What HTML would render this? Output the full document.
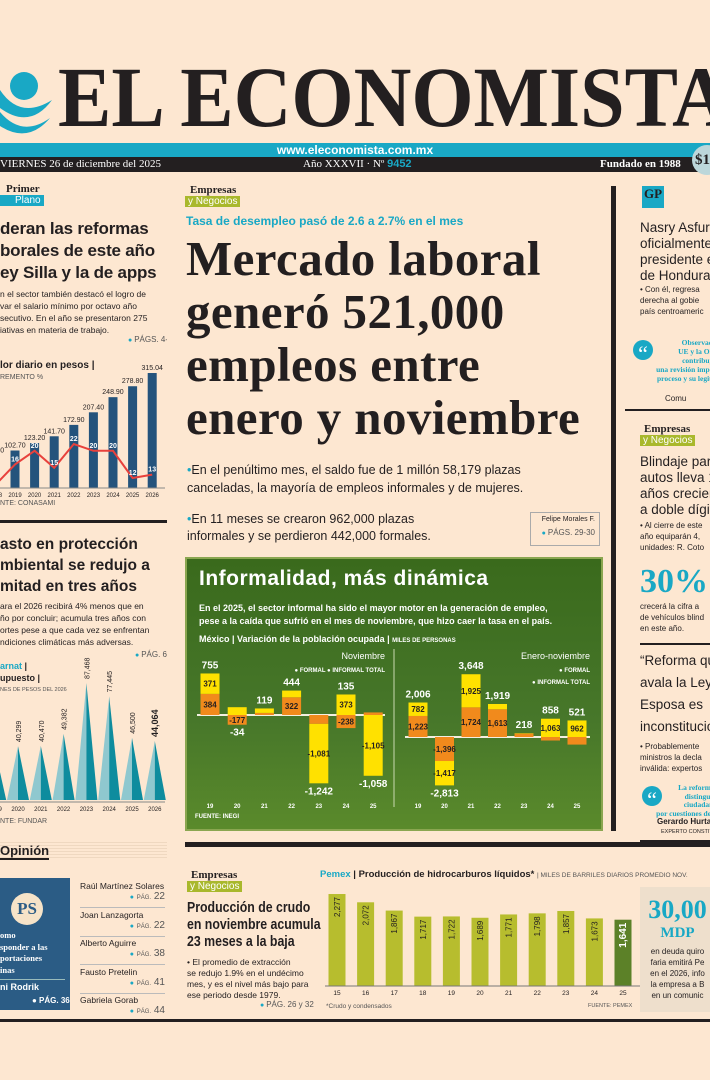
<!DOCTYPE html>
<html><head><meta charset="utf-8">
<style>
*{margin:0;padding:0;box-sizing:border-box}
body{width:710px;height:1080px;background:#fde7d1;font-family:"Liberation Sans",sans-serif;color:#231f20;position:relative;overflow:hidden}
.a{position:absolute}
.serif{font-family:"Liberation Serif",serif}
.tag1{font-family:"Liberation Serif",serif;font-weight:bold;font-size:11px;line-height:11px}
.tag2{font-size:10px;line-height:11px;color:#fff;padding:0 3px}
.pg{font-size:8px;color:#555}
.pg:before{content:"● ";color:#19a8c5;font-size:7px}
.col{overflow:hidden}
</style></head><body>
<!-- masthead -->
<svg class="a" style="left:0;top:60px" width="60" height="78">
<path d="M26 4 A34 34 0 0 1 26 72 A30 30 0 0 0 26 4Z" fill="#19a8c5"/>
<circle cx="24" cy="26" r="14" fill="#19a8c5"/>
<path d="M0 30 Q20 60 52 40 Q30 70 0 48Z" fill="#19a8c5"/>
<path d="M0 52 Q22 78 50 58 Q28 84 0 66Z" fill="#19a8c5"/>
</svg>
<div class="a serif" style="left:58px;top:52px;font-size:86px;font-weight:bold;line-height:90px;white-space:nowrap;transform:scaleX(0.93);transform-origin:left top">EL ECONOMISTA</div>
<div class="a" style="left:0;top:143px;width:710px;height:14px;background:#19a8c5;color:#fff;font-weight:bold;font-size:12px;line-height:14px;text-align:center">www.eleconomista.com.mx</div>
<div class="a" style="left:0;top:157px;width:710px;height:15px;background:#231f20;color:#fff;font-size:11px;line-height:15px">
<span class="a serif" style="left:0">VIERNES 26 de diciembre del 2025</span>
<span class="a serif" style="left:303px">Año XXXVII · Nº <b style="color:#19a8c5;font-family:'Liberation Sans'">9452</b></span>
<span class="a serif" style="left:600px;font-weight:bold">Fundado en 1988</span>
</div>
<div class="a serif" style="left:692px;top:145px;width:30px;height:30px;border-radius:50%;background:#bcd7da;font-weight:bold;font-size:15px;line-height:30px;padding-left:3px">$1</div>

<!-- LEFT COLUMN -->
<div class="a col" style="left:0;top:180px;width:167px;height:840px">
 <div class="a tag1" style="left:6px;top:4px">Primer</div>
 <div class="a tag2" style="left:0;top:15px;background:#19a8c5;padding-left:15px">Plano</div>
 <div class="a" style="left:0;top:38px;font-size:17px;font-weight:bold;line-height:22px;white-space:nowrap;letter-spacing:-0.2px">deran las reformas<br>borales de este año<br>ey Silla y la de apps</div>
 <div class="a" style="left:0;top:108px;font-size:8.5px;line-height:12px;white-space:nowrap">n el sector también destacó el logro de<br>var el salario mínimo por octavo año<br>secutivo. En el año se presentaron 275<br>iativas en materia de trabajo.</div>
 <div class="a pg" style="left:128px;top:155px;white-space:nowrap">PÁGS. 4-5</div>
 <div class="a" style="left:0;top:180px;font-size:10px;font-weight:bold">lor diario en pesos |</div>
 <div class="a" style="left:0;top:194px;font-size:7px;color:#555">REMENTO %</div>
 <svg id="salary" class="a" style="left:0;top:0" width="167" height="840"></svg>
 <div class="a" style="left:0;top:320px;font-size:7px;color:#555">NTE: CONASAMI</div>
 <div class="a" style="left:0;top:340px;width:167px;height:3px;background:#231f20"></div>
 <div class="a" style="left:0;top:354px;font-size:15.5px;font-weight:bold;line-height:21px;white-space:nowrap">asto en protección<br>mbiental se redujo a<br> mitad en tres años</div>
 <div class="a" style="left:0;top:420px;font-size:8.5px;line-height:12px;white-space:nowrap">ara el 2026 recibirá 4% menos que en<br>ño por concluir; acumula tres años con<br>ortes pese a que cada vez se enfrentan<br>ndiciones climáticas más adversas.</div>
 <div class="a pg" style="left:135px;top:470px">PÁG. 6</div>
 <div class="a" style="left:0;top:481px;font-size:9px;font-weight:bold;color:#19a8c5">arnat <span style="color:#231f20">|</span></div>
 <div class="a" style="left:0;top:493px;font-size:9px;font-weight:bold">upuesto |</div>
 <div class="a" style="left:0;top:507px;font-size:5.5px;color:#555">NES DE PESOS DEL 2026</div>
 <div class="a" style="left:0;top:638px;font-size:7px;color:#555">NTE: FUNDAR</div>
 <!-- opinion -->
 <div class="a" style="left:0;top:660px;width:167px;height:20px;background:repeating-linear-gradient(180deg,#fde7d1 0 2px,#efd8c0 2px 3px)"></div>
 <div class="a" style="left:0;top:663px;font-size:13px;font-weight:bold;border-bottom:2px solid #231f20">Opinión</div>
 <div class="a" style="left:0;top:698px;width:70px;height:132px;background:#2b5c85;color:#fff">
  <div class="a serif" style="left:11px;top:15px;width:32px;height:32px;border-radius:50%;background:#f6e3c8;color:#2b5c85;font-weight:bold;font-size:17px;line-height:32px;text-align:center">PS</div>
  <div class="a serif" style="left:0;top:52px;font-size:8.5px;font-weight:bold;line-height:11.5px;white-space:nowrap">omo<br>sponder a las<br>portaciones<br>inas</div>
  <div class="a" style="left:0;top:101px;width:65px;border-top:1px solid #9bb"></div>
  <div class="a" style="left:0;top:104px;font-size:9px;font-weight:bold">ni Rodrik</div>
  <div class="a" style="left:32px;top:118px;font-size:8px;font-weight:bold">● PÁG. 36</div>
 </div>
 <div id="opnames"></div>
</div>

<!-- CENTER -->
<div class="a tag1" style="left:190px;top:185px">Empresas</div>
<div class="a tag2" style="left:185px;top:196px;background:#a9b82c">y Negocios</div>
<div class="a" style="left:186px;top:214px;font-size:12px;font-weight:bold;color:#19a8c5">Tasa de desempleo pasó de 2.6 a 2.7% en el mes</div>
<div class="a serif" style="left:186px;top:232px;font-size:49px;font-weight:bold;line-height:53px;white-space:nowrap;letter-spacing:0.4px">Mercado laboral<br>generó 521,000<br>empleos entre<br>enero y noviembre</div>
<div class="a" style="left:187px;top:461px;font-size:12.5px;line-height:18px;white-space:nowrap"><span style="color:#19a8c5">•</span>En el penúltimo mes, el saldo fue de 1 millón 58,179 plazas<br>canceladas, la mayoría de empleos informales y de mujeres.</div>
<div class="a" style="left:187px;top:511px;font-size:12.5px;line-height:17px;white-space:nowrap"><span style="color:#19a8c5">•</span>En 11 meses se crearon 962,000 plazas<br>informales y se perdieron 442,000 formales.</div>
<div class="a" style="left:530px;top:512px;width:70px;height:34px;border:1px solid #aaa;font-size:7px;padding:3px 4px;text-align:right">Felipe Morales F.<div class="pg" style="margin-top:5px">PÁGS. 29-30</div></div>

<!-- green infographic -->
<div class="a" style="left:185px;top:557px;width:418px;height:274px;background:linear-gradient(180deg,#3a6a1c 0%,#47772a 60%,#5a8a2b 100%);border:2px solid #8aa650;color:#fff">
 <div class="a" style="left:12px;top:8px;font-size:21px;font-weight:bold;letter-spacing:0.5px">Informalidad, más dinámica</div>
 <div class="a" style="left:12px;top:43px;font-size:9px;line-height:12.5px;font-weight:bold">En el 2025, el sector informal ha sido el mayor motor en la generación de empleo,<br>pese a la caída que sufrió en el mes de noviembre, que hizo caer la tasa en el país.</div>
 <div class="a" style="left:12px;top:75px;font-size:9px;font-weight:bold">México | Variación de la población ocupada | <span style="font-size:6px">MILES DE PERSONAS</span></div>
 <div class="a" style="left:8px;top:255px;font-size:6px;font-weight:bold">FUENTE: INEGI</div>
</div>
<svg id="info" class="a" style="left:185px;top:557px" width="418" height="274"></svg>

<div class="a" style="left:185px;top:842px;width:525px;height:5px;background:#231f20"></div>
<div class="a tag1" style="left:191px;top:870px">Empresas</div>
<div class="a tag2" style="left:187px;top:881px;background:#a9b82c">y Negocios</div>
<div class="a" style="left:187px;top:900px;font-size:14.5px;font-weight:bold;line-height:17px;white-space:nowrap;transform:scaleX(0.85);transform-origin:left top">Producción de crudo<br>en noviembre acumula<br>23 meses a la baja</div>
<div class="a" style="left:187px;top:957px;font-size:8.5px;line-height:11px;white-space:nowrap">• El promedio de extracción<br>se redujo 1.9% en el undécimo<br>mes, y es el nivel más bajo para<br>ese periodo desde 1979.</div>
<div class="a pg" style="left:260px;top:1000px">PÁG. 26 y 32</div>

<div class="a" style="left:320px;top:869px;font-size:9.5px;font-weight:bold;white-space:nowrap"><span style="color:#19a8c5">Pemex</span> | Producción de hidrocarburos líquidos* <span style="font-weight:normal;font-size:6.5px;color:#555">| MILES DE BARRILES DIARIOS PROMEDIO NOV.</span></div>
<svg id="pemex" class="a" style="left:310px;top:860px" width="340" height="160"></svg>
<div class="a" style="left:326px;top:1003px;font-size:6.5px;color:#555">*Crudo y condensados</div>
<div class="a" style="left:588px;top:1003px;font-size:5.5px;color:#555">FUENTE: PEMEX</div>

<!-- RIGHT COLUMN -->
<div class="a" style="left:611px;top:186px;width:5px;height:645px;background:#231f20"></div>
<div class="a col" style="left:625px;top:180px;width:85px;height:840px">
 <div class="a serif" style="left:17px;top:6px;width:22px;height:22px;background:#19a8c5;color:#231f20;font-weight:bold;font-size:13px;line-height:16px;text-align:center">GP</div>
 <div class="a" style="left:15px;top:40px;font-size:13.5px;line-height:16px;white-space:nowrap">Nasry Asfura<br>oficialmente<br>presidente el<br>de Honduras</div>
 <div class="a" style="left:15px;top:104px;font-size:8px;line-height:11px;white-space:nowrap">• Con él, regresa<br>derecha al gobie<br>país centroameric</div>
 <div class="a" style="left:8px;top:160px;width:20px;height:20px;border-radius:50%;background:#19a8c5;color:#fff;font-size:22px;line-height:28px;text-align:center;font-family:'Liberation Serif'">“</div>
 <div class="a serif" style="left:0;top:158px;font-size:7.5px;line-height:9px;font-weight:bold;color:#19a8c5;white-space:nowrap;text-align:right;width:95px">Observador<br>UE y la OEA<br>contribuyer<br>una revisión imparc<br>proceso y su legitim</div>
 <div class="a" style="left:40px;top:214px;font-size:8px;white-space:nowrap">Comu</div>
 <div class="a" style="left:0;top:229px;width:85px;height:2px;background:#231f20"></div>
 <div class="a tag1" style="left:19px;top:244px">Empresas</div>
 <div class="a tag2" style="left:15px;top:255px;background:#a9b82c">y Negocios</div>
 <div class="a" style="left:15px;top:274px;font-size:13.5px;line-height:16px;white-space:nowrap">Blindaje para<br>autos lleva 1<br>años crecien<br>a doble dígit</div>
 <div class="a" style="left:15px;top:340px;font-size:8px;line-height:11px;white-space:nowrap">• Al cierre de este<br>año equiparán 4,<br>unidades: R. Coto</div>
 <div class="a serif" style="left:15px;top:384px;font-size:34px;font-weight:bold;color:#19a8c5;line-height:36px">30%</div>
 <div class="a" style="left:15px;top:421px;font-size:8px;line-height:11px;white-space:nowrap">crecerá la cifra a<br>de vehículos blind<br>en este año.</div>
 <div class="a" style="left:15px;top:463px;width:70px;height:2px;background:#231f20"></div>
 <div class="a" style="left:15px;top:470px;font-size:13.5px;line-height:22px;white-space:nowrap">“Reforma qu<br>avala la Ley<br>Esposa es<br>inconstitucion</div>
 <div class="a" style="left:15px;top:561px;font-size:8px;line-height:11px;white-space:nowrap">• Probablemente<br>ministros la decla<br>inválida: expertos</div>
 <div class="a" style="left:17px;top:606px;width:20px;height:20px;border-radius:50%;background:#19a8c5;color:#fff;font-size:22px;line-height:28px;text-align:center;font-family:'Liberation Serif'">“</div>
 <div class="a serif" style="left:0;top:604px;font-size:7.5px;line-height:8.5px;font-weight:bold;color:#19a8c5;white-space:nowrap;text-align:right;width:95px">La reforma c<br>distinguien<br>ciudadanos<br>por cuestiones de gé</div>
 <div class="a" style="left:32px;top:637px;font-size:8px;font-weight:bold;white-space:nowrap">Gerardo Hurta</div>
 <div class="a" style="left:36px;top:649px;font-size:5.5px;white-space:nowrap">EXPERTO CONSTITUC</div>
 <div class="a" style="left:15px;top:660px;width:70px;height:2px;background:#231f20"></div>
 <div class="a" style="left:15px;top:707px;width:75px;height:125px;background:#eedfcc;text-align:center">
  <div class="serif" style="font-size:26px;font-weight:bold;color:#19a8c5;line-height:30px;margin-top:8px;white-space:nowrap">30,00</div>
  <div class="serif" style="font-size:15px;font-weight:bold;color:#19a8c5;line-height:17px">MDP</div>
  <div style="font-size:8px;line-height:11px;white-space:nowrap;margin-top:4px">en deuda quiro<br>faria emitirá Pe<br>en el 2026, info<br>la empresa a B<br>en un comunic</div>
 </div>
</div>
<div class="a" style="left:0;top:1019px;width:710px;height:3px;background:#231f20"></div>

<script>
// ---------- salary chart data ----------
const salYears=["2018","2019","2020","2021","2022","2023","2024","2025","2026"];
const salValues=[88.36,102.70,123.20,141.70,172.90,207.40,248.90,278.80,315.04];
const salLabels=["88.40","102.70","123.20","141.70","172.90","207.40","248.90","278.80","315.04"];
const salPct=[10,16,20,15,22,20,20,12,13];
// ---------- semarnat ----------
const semYears=["2019","2020","2021","2022","2023","2024","2025","2026"];
const semValues=[37000,40299,40470,49382,87468,77445,46500,44064];
const semLabels=["37,000","40,299","40,470","49,382","87,468","77,445","46,500","44,064"];
// ---------- employment ----------
const empYears=["19","20","21","22","23","24","25"];
const novFormal=[384,-177,38,322,-161,-238,47];
const novInformal=[371,142,81,122,-1081,373,-1105];
const novTotal=[755,-34,119,444,-1242,135,-1058];
const ytdFormal=[1223,-1396,1724,1613,199,-205,-442];
const ytdInformal=[782,-1417,1925,306,20,1063,962];
const ytdTotal=[2006,-2813,3648,1919,218,858,521];
// ---------- pemex ----------
const pemYears=["15","16","17","18","19","20","21","22","23","24","25"];
const pemValues=[2277,2072,1867,1717,1722,1689,1771,1798,1857,1673,1641];
const pemLabels=["2,277","2,072","1,867","1,717","1,722","1,689","1,771","1,798","1,857","1,673","1,641"];
// ---------- opinion ----------
const opNames=["Raúl Martínez Solares","Joan Lanzagorta","Alberto Aguirre","Fausto Pretelin","Gabriela Gorab"];
const opPages=["22","22","38","41","44"];

const NS="http://www.w3.org/2000/svg";
function mk(p,t,a,txt){const e=document.createElementNS(NS,t);for(const k in a)e.setAttribute(k,a[k]);if(txt!==undefined)e.textContent=txt;p.appendChild(e);return e;}

(function(){
 const s=document.getElementById('salary');
 const base=308, x0=-4.6, dx=19.6;
 const xS=i=>x0+i*dx, yS=v=>base-v*0.365, yP=p=>264-(p-22)*3.4;
 salValues.forEach((v,i)=>{
  const r=mk(s,'rect',{x:xS(i)-4.5,y:yS(v),width:9,height:base-yS(v),fill:'#24537c'});
  
  
  mk(s,'text',{x:xS(i),y:yS(v)-3,'font-size':7,'text-anchor':'middle',fill:'#231f20','font-family':'Liberation Sans'},salLabels[i]);
  mk(s,'text',{x:xS(i),y:base+9,'font-size':6,'text-anchor':'middle',fill:'#231f20','font-family':'Liberation Sans'},salYears[i]);
 });
 mk(s,'line',{x1:0,x2:165,y1:base,y2:base,stroke:'#888','stroke-width':1});
 const pts=salPct.map((p,i)=>xS(i)+','+yP(p)).join(' ');
 const pl=mk(s,'polyline',{points:pts,fill:'none',stroke:'#e8413c','stroke-width':2});
 
 
 salPct.forEach((p,i)=>{ if(i>0) mk(s,'text',{x:xS(i),y:yP(p)-3,'font-size':7,'text-anchor':'middle',fill:'#fff','font-weight':'bold','font-family':'Liberation Sans'},p);});
 const b2=620, sx0=-4.8, sdx=22.8, sy=v=>b2-v*0.001338;
 semValues.forEach((v,i)=>{
  const x=sx0+i*sdx;
  const t1=mk(s,'polygon',{points:`${x-11},${b2} ${x},${sy(v)} ${x},${b2}`,fill:'#8fc8cf'});
  
  
  mk(s,'polygon',{points:`${x},${b2} ${x},${sy(v)} ${x+11},${b2}`,fill:'#0e8c9e'});
  const last=i===semValues.length-1;
  mk(s,'text',{x:x+3,y:sy(v)-4,'font-size':last?9:7,'font-weight':last?'bold':'normal',fill:'#231f20',transform:`rotate(-90 ${x+3} ${sy(v)-4})`,'font-family':'Liberation Sans'},semLabels[i]);
  mk(s,'text',{x:x,y:b2+11,'font-size':6,'text-anchor':'middle',fill:'#231f20','font-family':'Liberation Sans'},semYears[i]);
 });
 mk(s,'line',{x1:0,x2:165,y1:b2+2,y2:b2+2,stroke:'#888'});
})();

(function(){
 const c=document.getElementById('opnames');
 opNames.forEach((n,i)=>{
  const d=document.createElement('div');
  d.className='a';
  d.style.cssText=`left:80px;top:${701+i*28.5}px;width:85px;height:27px;border-bottom:1px solid #bbb;font-size:8.5px`;
  
  
  d.innerHTML=`${n}<div style="text-align:right;font-size:10px;color:#555"><span style="color:#19a8c5;font-size:7px">●</span> <span style="font-size:6px">PÁG.</span> ${opPages[i]}</div>`;
  c.appendChild(d);
 });
})();

(function(){
 const s=document.getElementById('info');
 function panel(F,I,T,x0,dx,base,k,x1,x2){
  mk(s,'line',{x1:x1,x2:x2,y1:base,y2:base,stroke:'#f3efe0','stroke-width':2});
  F.forEach((f,i)=>{
   const x=x0+i*dx, w=19, inf=I[i];
   const fy=f>=0?base-f*k:base;
   const rf=mk(s,'rect',{x:x-w/2,y:fy,width:w,height:Math.abs(f)*k,fill:'#f18a1c'});
   
   
   let iy0;
   if(inf>=0){iy0=(f>=0?base-f*k:base)-inf*k;}else{iy0=(f<0?base+Math.abs(f)*k:base);}
   const ri=mk(s,'rect',{x:x-w/2,y:iy0,width:w,height:Math.abs(inf)*k,fill:'#ffe100'});
   
   
   const txt=(v,y,c,sz)=>mk(s,'text',{x:x,y:y,'font-size':sz||9,'text-anchor':'middle',fill:c,'font-weight':'bold','font-family':'Liberation Sans'},v.toLocaleString('en-US'));
   if(Math.abs(f)*k>9) txt(f,fy+Math.abs(f)*k/2+3,'#231f20',8);
   if(Math.abs(inf)*k>9) txt(inf,iy0+Math.abs(inf)*k/2+3,'#231f20',8);
   const top=Math.min(base-Math.max(f,0)*k-Math.max(inf,0)*k,base);
   const bot=base+Math.max(-f,0)*k+Math.max(-inf,0)*k;
   if(T[i]>=0) txt(T[i],top-5,'#fff',10); else txt(T[i],bot+11,'#fff',10);
   mk(s,'text',{x:x,y:251,'font-size':6,'text-anchor':'middle',fill:'#fff','font-weight':'bold','font-family':'Liberation Sans'},empYears[i]);
  });
 }
 panel(novFormal,novInformal,novTotal,25,27.2,158,0.055,12,200);
 panel(ytdFormal,ytdInformal,ytdTotal,233,26.5,180,0.0172,220,405);
 mk(s,'line',{x1:209,x2:209,y1:92,y2:250,stroke:'#c9d9b0','stroke-width':1});
 const lg=(x,y,t,anchor)=>mk(s,'text',{x:x,y:y,'font-size':anchor?9:6,'text-anchor':'end',fill:'#fff','font-weight':anchor?'normal':'bold','font-family':'Liberation Sans'},t);
 lg(200,102,'Noviembre',1);
 lg(200,115,'●  FORMAL  ●  INFORMAL  TOTAL');
 lg(405,102,'Enero-noviembre',1);
 lg(405,115,'●  FORMAL');
 lg(405,127,'●  INFORMAL  TOTAL');
})();

(function(){
 const s=document.getElementById('pemex');
 const base=126, x0=27, dx=28.6, k=0.0404;
 pemValues.forEach((v,i)=>{
  const x=x0+i*dx, last=i===pemValues.length-1, h=v*k;
  const r=mk(s,'rect',{x:x-8.5,y:base-h,width:17,height:h,fill:last?'#5c8128':'#b7bd2e'});
  
  
  const ty=base-h+3;
  mk(s,'text',{x:x+3,y:ty,'font-size':last?10:8,'font-weight':last?'bold':'normal','text-anchor':'end',fill:last?'#fff':'#231f20',transform:`rotate(-90 ${x+3} ${ty})`,'font-family':'Liberation Sans'},pemLabels[i]);
  mk(s,'text',{x:x,y:base+9,'font-size':6.5,'text-anchor':'middle',fill:'#231f20','font-family':'Liberation Sans'},pemYears[i]);
 });
 mk(s,'line',{x1:15,x2:335,y1:base,y2:base,stroke:'#777'});
})();
</script>
</body></html>
